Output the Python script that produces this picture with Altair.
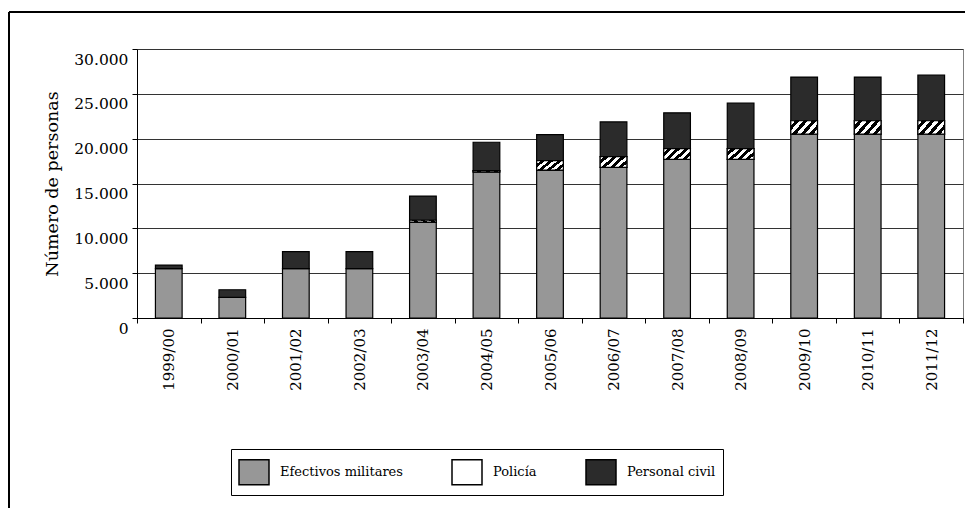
import altair as alt
import pandas as pd

# Misiones: personal desplegado por campaña
years = ["1999/00", "2000/01", "2001/02", "2002/03", "2003/04", "2004/05", "2005/06",
         "2006/07", "2007/08", "2008/09", "2009/10", "2010/11", "2011/12"]
militares = [5500, 2300, 5500, 5500, 10700, 16300, 16500, 16800, 17700, 17700, 20500, 20500, 20500]
policia = [0, 0, 0, 0, 200, 150, 1050, 1200, 1200, 1200, 1500, 1500, 1500]
civil = [400, 850, 1900, 1900, 2700, 3150, 2900, 3870, 3980, 5080, 4870, 4870, 5100]

series = ["Efectivos militares", "Policía", "Personal civil"]
fills = ["#979797", "#ffffff", "#2b2b2b"]
y_ticks = [0, 5000, 10000, 15000, 20000, 25000, 30000]

FONT = "DejaVu Serif"

# stacked segments in long form
rows = []
for i, yr in enumerate(years):
    base = 0
    for name, vals in zip(series, [militares, policia, civil]):
        v = vals[i]
        if v > 0:
            rows.append({"año": yr, "serie": name, "inicio": base, "fin": base + v})
        base += v
df = pd.DataFrame(rows)

# diagonal hatching for the police segments
n_bands = 9
stops = []
for b in range(n_bands):
    col = "#ffffff" if b % 2 == 0 else "#000000"
    stops.append(alt.GradientStop(offset=b / n_bands, color=col))
    stops.append(alt.GradientStop(offset=(b + 1) / n_bands, color=col))
hatch = alt.LinearGradient(gradient="linear", stops=stops, x1=0, y1=0, x2=1.2, y2=0.53)

bar_width = alt.RelativeBandSize(0.42)

x_enc = alt.X(
    "año:N", sort=years,
    scale=alt.Scale(paddingInner=0, paddingOuter=0),
    axis=alt.Axis(title=None, labelAngle=-90, tickBand="extent", ticks=True, tickSize=5,
                  tickColor="black", domainColor="black", labelFont=FONT, labelFontSize=15,
                  labelColor="black", labelPadding=5, grid=False),
)
y_enc = alt.Y(
    "inicio:Q",
    scale=alt.Scale(domain=[0, 30000], nice=False),
    axis=alt.Axis(title="Número de personas", values=y_ticks,
                  labelExpr="replace(format(datum.value, ','), ',', '.')",
                  grid=True, gridColor="#333333", gridWidth=1, tickSize=5, tickColor="black",
                  domainColor="black", labelOffset=10, labelPadding=4,
                  labelFont=FONT, labelFontSize=15.5, labelColor="black",
                  titleFont=FONT, titleFontSize=17.5, titleFontWeight="normal",
                  titleColor="black", titlePadding=12),
)

bars = alt.Chart(df).mark_bar(stroke="black", strokeWidth=1.2, width=bar_width).encode(
    x=x_enc,
    y=y_enc,
    y2="fin:Q",
    color=alt.Color(
        "serie:N",
        scale=alt.Scale(domain=series, range=fills),
        legend=alt.Legend(
            title=None, orient="none", legendX=94, legendY=400, direction="horizontal",
            strokeColor="black", fillColor="white", padding=7,
            symbolType="M-1,-0.83H1V0.83H-1Z", symbolSize=900,
            symbolStrokeColor="black", symbolStrokeWidth=1.5, symbolOpacity=1,
            labelFont=FONT, labelFontSize=13, labelColor="black", labelOffset=10,
            columnPadding=46,
        ),
    ),
)

police = alt.Chart(df).transform_filter(alt.datum.serie == "Policía").mark_bar(
    fill=hatch, stroke="black", strokeWidth=1.2, width=bar_width
).encode(x=alt.X("año:N", sort=years), y="inicio:Q", y2="fin:Q")

# figure frame (left and top edges)
frame_df = pd.DataFrame({"k": [0]})
frame_left = alt.Chart(frame_df).mark_rule(color="black", strokeWidth=2).encode(
    x=alt.value(-128), y=alt.value(-37), y2=alt.value(459)
)
frame_top = alt.Chart(frame_df).mark_rule(color="black", strokeWidth=2).encode(
    x=alt.value(-128), x2=alt.value(828), y=alt.value(-37)
)

chart = alt.layer(bars, police, frame_left, frame_top).properties(
    width=826, height=269,
    padding={"left": 8, "top": 11, "right": 0, "bottom": 0},
    background="white",
).configure_view(stroke="#808080", strokeWidth=1)

chart.save("out.html", embed_options={"renderer": "svg", "actions": False})
